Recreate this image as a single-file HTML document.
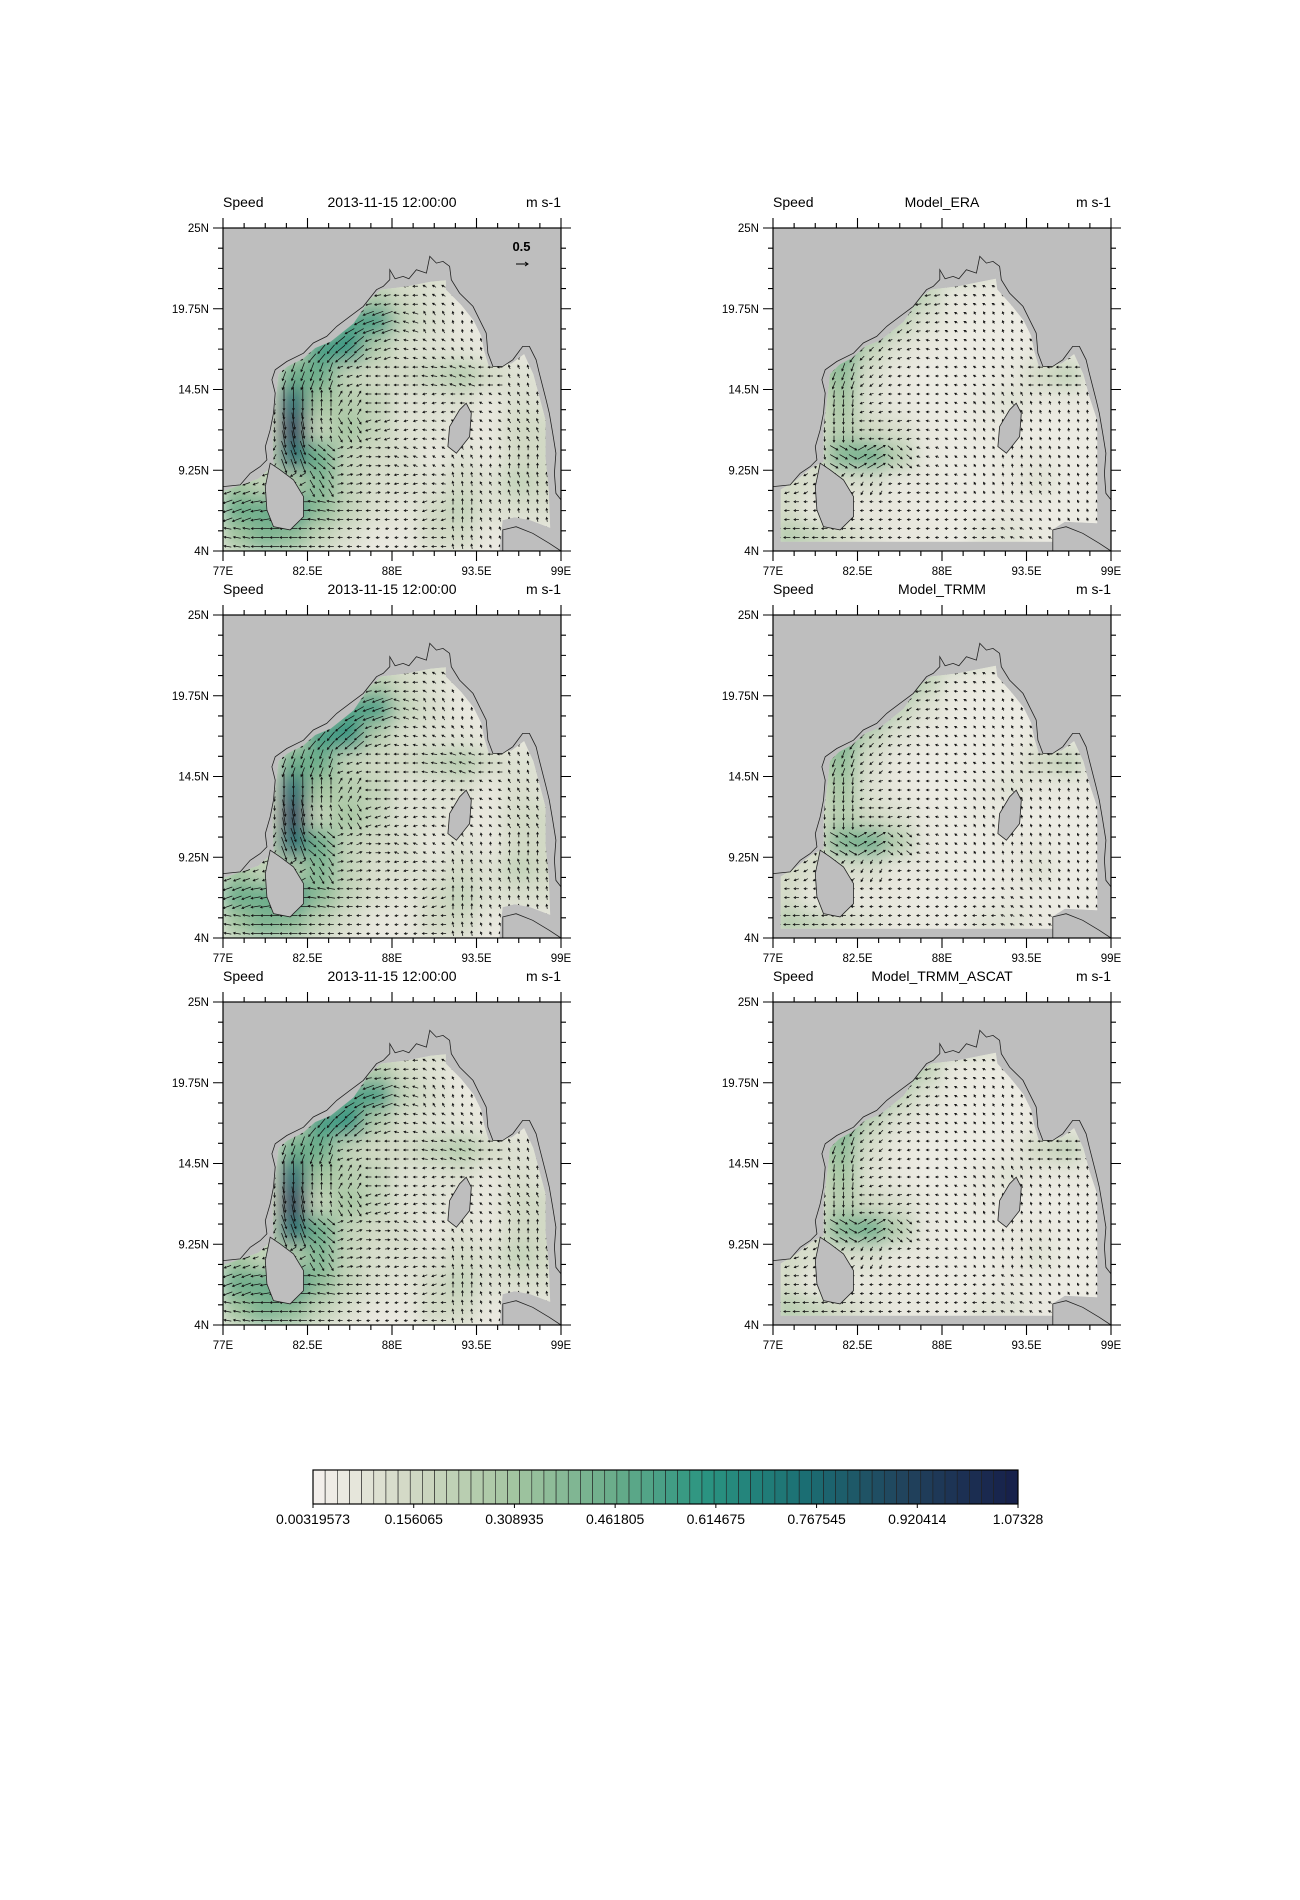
<!DOCTYPE html>
<html><head><meta charset="utf-8"><style>
html,body{margin:0;padding:0;background:#fff;}
svg{display:block;font-family:"Liberation Sans",sans-serif;}
</style></head><body>
<svg id="root" width="1300" height="1900" viewBox="0 0 1300 1900">
<defs>
<filter id="blur" x="-20%" y="-20%" width="140%" height="140%"><feGaussianBlur stdDeviation="9"/></filter>
</defs>
</svg>
<script>
// ---- data ----
const lonTicks=[77,82.5,88,93.5,99];
const lonLabels=["77E","82.5E","88E","93.5E","99E"];
const latTicks=[25,19.75,14.5,9.25,4];
const latLabels=["25N","19.75N","14.5N","9.25N","4N"];
const cbTickLabels=["0.00319573","0.156065","0.308935","0.461805","0.614675","0.767545","0.920414","1.07328"];
const cbMin=0.00319573, cbMax=1.07328, cbBoxes=58;
const panelTitlesMid=["2013-11-15 12:00:00","Model_ERA","2013-11-15 12:00:00","Model_TRMM","2013-11-15 12:00:00","Model_TRMM_ASCAT"];
// speed grids (m/s) 12 rows (25N->4N) x 12 cols (77E->99E)
const speedObs=[
[.05,.05,.05,.05,.05,.05,.05,.05,.05,.05,.05,.05],
[.08,.08,.08,.08,.08,.08,.1,.15,.15,.08,.08,.08],
[.08,.08,.08,.08,.15,.25,.15,.1,.06,.04,.04,.04],
[.08,.08,.08,.2,.5,.55,.2,.12,.06,.04,.04,.04],
[.08,.08,.2,.55,.6,.25,.12,.1,.08,.06,.06,.06],
[.08,.1,.45,.45,.2,.15,.15,.2,.25,.15,.1,.1],
[.08,.15,.75,.3,.25,.2,.1,.1,.12,.06,.12,.1],
[.08,.15,.9,.2,.3,.2,.1,.1,.06,.06,.15,.15],
[.15,.2,.75,.45,.2,.15,.12,.06,.1,.06,.15,.15],
[.3,.2,.25,.4,.2,.12,.12,.1,.15,.1,.2,.15],
[.45,.45,.6,.35,.2,.12,.08,.15,.2,.1,.12,.12],
[.3,.4,.35,.2,.12,.06,.06,.15,.15,.06,.06,.06]];
const angleObs=[
[180,180,180,180,180,180,180,180,180,180,180,180],
[180,180,180,180,180,180,180,170,160,150,120,90],
[200,200,200,200,200,190,180,150,120,100,90,90],
[220,220,220,220,210,200,160,120,100,90,90,90],
[230,230,230,230,220,200,170,150,130,110,100,90],
[240,240,250,250,200,180,180,170,160,180,110,100],
[260,260,270,90,60,180,180,190,180,150,120,100],
[270,270,280,100,300,200,190,170,150,140,120,110],
[230,240,290,320,20,0,160,150,120,100,90,90],
[200,200,210,300,10,10,190,170,100,120,110,100],
[200,190,180,170,180,180,180,200,90,110,100,100],
[170,180,180,180,180,190,190,180,100,110,120,100]];
const speedModel=[
[.05,.05,.05,.05,.05,.05,.05,.05,.05,.05,.05,.05],
[.06,.06,.06,.06,.08,.15,.25,.15,.06,.06,.06,.06],
[.06,.06,.06,.2,.4,.2,.06,.05,.05,.05,.05,.05],
[.06,.06,.2,.5,.2,.1,.05,.04,.04,.04,.04,.04],
[.06,.15,.45,.2,.1,.06,.04,.04,.04,.06,.06,.06],
[.06,.25,.35,.12,.06,.04,.04,.04,.06,.15,.2,.06],
[.06,.15,.3,.1,.06,.04,.04,.06,.1,.06,.06,.06],
[.06,.15,.25,.15,.12,.06,.04,.06,.04,.04,.04,.04],
[.06,.15,.4,.45,.25,.06,.04,.04,.06,.06,.04,.04],
[.15,.12,.12,.12,.06,.06,.04,.04,.06,.1,.04,.04],
[.15,.06,.06,.06,.06,.04,.04,.04,.06,.04,.04,.04],
[.25,.2,.15,.1,.06,.06,.04,.1,.1,.06,.04,.04]];
const angleModel=[
[180,180,180,180,180,180,180,180,180,180,180,180],
[200,200,200,200,200,190,180,170,160,150,120,90],
[220,220,220,220,210,190,170,150,130,110,100,90],
[230,230,230,225,215,190,150,120,110,100,90,90],
[240,240,235,225,200,170,150,130,120,140,160,170],
[250,250,250,220,190,180,170,150,130,180,180,170],
[260,260,265,200,180,180,150,130,120,110,100,100],
[270,270,270,180,190,170,150,120,100,110,100,100],
[270,280,330,30,320,160,140,120,100,110,120,100],
[200,210,220,240,190,180,160,120,100,120,110,100],
[180,180,180,180,180,180,180,170,150,130,120,110],
[180,180,180,180,180,180,180,180,160,150,140,130]];
// geography (lon,lat)
const coast=[[77,8.19],[78.12,8.3],[78.77,9.05],[79.42,9.49],[79.86,9.92],[79.75,10.79],[80.07,11.88],[80.29,12.96],[80.4,14.26],[80.18,15.13],[80.4,15.78],[81.15,16.32],[82.24,16.86],[82.88,17.52],[83.75,17.95],[84.4,18.6],[85.26,19.25],[86.13,19.9],[86.99,20.99],[87.43,21.2],[87.86,21.64],[87.86,22.29],[88.2,21.7],[88.72,21.85],[89.1,21.7],[89.59,22.29],[90.24,22.07],[90.46,23.16],[90.89,22.72],[91.32,22.83],[91.75,22.51],[91.86,21.64],[92.4,20.77],[93.27,19.9],[93.7,19.03],[94.13,18.17],[94.24,16.86],[94.57,16.0],[95.21,16.0],[95.86,16.43],[96.51,17.3],[96.94,17.3],[97.38,16.43],[97.59,15.56],[98.03,13.83],[98.24,12.96],[98.46,11.66],[98.67,10.36],[98.57,9.05],[98.67,7.75],[99,7.32]];
const sriLanka=[[80.07,9.71],[80.72,9.27],[81.59,8.62],[82.24,7.54],[82.24,6.23],[81.37,5.37],[80.29,5.58],[79.86,6.67],[79.75,8.19]];
const sumatra=[[95.21,4],[95.21,5.37],[96.08,5.58],[97.16,5.15],[98.24,4.5],[99,4]];
const andaman=[[92.4,13.18],[92.83,13.61],[93.16,12.96],[93.05,11.44],[92.19,10.36],[91.64,10.79],[91.75,12.09]];
const maskObs=[[77,4],[77,7.9],[78.5,8.4],[79.3,8.7],[80.3,9.6],[80.2,12],[80.5,14.5],[80.6,15.5],[81.2,16.0],[82.2,16.5],[83,17.2],[84,17.6],[85.5,18.8],[86.5,20.3],[87.3,21.0],[89,21.2],[90.5,21.5],[91.5,21.6],[91.5,21],[92.5,20],[93.3,19],[93.8,18],[94.0,17],[94.3,16.0],[95.8,16.2],[96.6,16.8],[97.2,15.5],[97.6,14.0],[98.0,12.5],[98.0,10],[98.2,8],[98.3,5.5],[97.0,6.0],[96.0,6.2],[95.2,6.0],[95.0,4]];
const maskModel=[[77.5,4.6],[77.5,8.0],[78.5,8.6],[79.5,9.4],[80.3,9.8],[80.3,12],[80.6,14.5],[80.7,15.5],[81.3,16.1],[82.2,16.6],[83,17.3],[84,17.7],[85.5,18.9],[86.5,20.4],[87.3,21.0],[89,21.2],[90.5,21.5],[91.5,21.7],[91.6,21],[92.5,20],[93.3,19],[93.8,18],[94.0,17],[94.3,16.0],[95.8,16.2],[96.6,16.8],[97.2,15.5],[97.6,14.0],[98.1,12.5],[98.1,10],[98.1,8],[98.1,5.8],[96.0,5.9],[95.2,5.4],[95.2,4.6]];

const NS="http://www.w3.org/2000/svg";
const root=document.getElementById('root');
function mk(tag,attrs,parent){const e=document.createElementNS(NS,tag);for(const k in attrs)e.setAttribute(k,attrs[k]);(parent||root).appendChild(e);return e;}
const cmapStops=[[0,[246,241,238]],[0.15,[210,217,197]],[0.3,[166,198,162]],[0.45,[109,174,139]],[0.6,[42,148,129]],[0.75,[27,110,115]],[0.9,[33,67,93]],[1.07,[23,32,74]]];
function cmap(v){if(v<=0)v=0;for(let i=1;i<cmapStops.length;i++){if(v<=cmapStops[i][0]||i==cmapStops.length-1){const a=cmapStops[i-1],b=cmapStops[i];let t=(v-a[0])/(b[0]-a[0]);t=Math.max(0,Math.min(1,t));const c=a[1].map((x,j)=>Math.round(x+(b[1][j]-x)*t));return `rgb(${c[0]},${c[1]},${c[2]})`;}}}

const W=338,H=323;
const panelX=[223,773], panelY=[228,615,1002];
let clipId=0;
function drawPanel(idx,x0,y0,speed,angle,mask){
  const g=mk('g',{});
  
  
  const px=lon=>x0+(lon-77)/22*W, py=lat=>y0+(25-lat)/21*H;
  const pts=a=>a.map(p=>px(p[0]).toFixed(1)+','+py(p[1]).toFixed(1)).join(' ');
  mk('rect',{x:x0,y:y0,width:W,height:H,fill:'#bebebe'},g);
  const cid='clip'+(clipId++);
  const cp=mk('clipPath',{id:cid},g);
  mk('polygon',{points:pts(mask)},cp);
  const field=mk('g',{'clip-path':`url(#${cid})`},g);
  
  
  mk('polygon',{points:pts(mask),fill:cmap(0.02)},field);
  const bl=mk('g',{filter:'url(#blur)'},field);
  const rows=speed.length, cols=speed[0].length;
  const cw=W/cols, ch=H/rows;
  for(let r=0;r<rows;r++)for(let c=0;c<cols;c++){
    const cell=mk('rect',{x:x0+c*cw-1,y:y0+r*ch-1,width:cw+2,height:ch+2,fill:cmap(speed[r][c])},bl);
    
    
  }
  let d='';
  for(let r=0;r<rows;r++)for(let c=0;c<cols;c++){
    const a=angle[r][c]*Math.PI/180, s=speed[r][c];
    const L=2.5+s*16;
    const dx=Math.cos(a), dy=-Math.sin(a);
    for(let i=0;i<3;i++)for(let j=0;j<3;j++){
      const cx=x0+c*cw+(j+0.5)*cw/3, cy=y0+r*ch+(i+0.5)*ch/3;
      const x1=cx-dx*L/2,y1=cy-dy*L/2,x2=cx+dx*L/2,y2=cy+dy*L/2;
      const hl=2.2;
      const hx1=x2-hl*(dx*0.87-dy*0.5), hy1=y2-hl*(dy*0.87+dx*0.5);
      const hx2=x2-hl*(dx*0.87+dy*0.5), hy2=y2-hl*(dy*0.87-dx*0.5);
      d+=`M${x1.toFixed(1)} ${y1.toFixed(1)}L${x2.toFixed(1)} ${y2.toFixed(1)}M${hx1.toFixed(1)} ${hy1.toFixed(1)}L${x2.toFixed(1)} ${y2.toFixed(1)}L${hx2.toFixed(1)} ${hy2.toFixed(1)}`;
    }
  }
  const ar=mk('path',{d:d,stroke:'#111',fill:'none','stroke-width':0.75},field);
  
  
  const land=[[77,25],...coast,[99,25]];
  const lp=mk('polygon',{points:pts(land),fill:'#bebebe'},g);
  
  
  mk('polyline',{points:pts(coast),fill:'none',stroke:'#222','stroke-width':0.8},g);
  for(const poly of [sriLanka,andaman]){
    const p=mk('polygon',{points:pts(poly),fill:'#bebebe',stroke:'#222','stroke-width':0.8},g);
    
    
  }
  mk('polygon',{points:pts(sumatra),fill:'#bebebe',stroke:'#222','stroke-width':0.8},g);
  mk('rect',{x:x0,y:y0,width:W,height:H,fill:'none',stroke:'#000','stroke-width':1.2},g);
  let t='';
  for(let lon=77;lon<=99.01;lon+=1.375){const maj=lonTicks.some(v=>Math.abs(v-lon)<0.01);const L=maj?10:5;const x=px(lon);t+=`M${x} ${y0}v${-L}M${x} ${y0+H}v${L}`;}
  for(let lat=4;lat<=25.01;lat+=1.3125){const maj=latTicks.some(v=>Math.abs(v-lat)<0.01);const L=maj?10:5;const y=py(lat);t+=`M${x0} ${y}h${-L}M${x0+W} ${y}h${L}`;}
  mk('path',{d:t,stroke:'#000','stroke-width':1.1,fill:'none'},g);
  lonTicks.forEach((v,i)=>{const e=mk('text',{x:px(v),y:y0+H+24,'text-anchor':'middle','font-size':11.5},g);e.textContent=lonLabels[i];
    });
  latTicks.forEach((v,i)=>{const e=mk('text',{x:x0-14,y:py(v)+4,'text-anchor':'end','font-size':11.5},g);e.textContent=latLabels[i];
    });
  const t1=mk('text',{x:x0,y:y0-21,'font-size':14},g);t1.textContent='Speed';
  
  const t2=mk('text',{x:x0+W/2,y:y0-21,'font-size':14,'text-anchor':'middle'},g);t2.textContent=panelTitlesMid[idx];
  
  const t3=mk('text',{x:x0+W,y:y0-21,'font-size':14,'text-anchor':'end'},g);t3.textContent='m s-1';
  
  if(idx===0){
    const rv=mk('text',{x:521.5,y:251,'font-size':13,'font-weight':'bold','text-anchor':'middle'},g);rv.textContent='0.5';
    
    const ra=mk('path',{d:'M516 264h12M525 262l3 2l-3 2',stroke:'#000','stroke-width':1,fill:'none'},g);
    
  }
}
for(let r=0;r<3;r++){
  drawPanel(r*2,panelX[0],panelY[r],speedObs,angleObs,maskObs);
  drawPanel(r*2+1,panelX[1],panelY[r],speedModel,angleModel,maskModel);
}
const cb=mk('g',{});


const cbx0=313,cbx1=1018,cby=1470,cbh=34;
const bw=(cbx1-cbx0)/cbBoxes;
for(let i=0;i<cbBoxes;i++){
  const v=cbMin+(i+0.5)*(cbMax-cbMin)/cbBoxes;
  const b=mk('rect',{x:cbx0+i*bw,y:cby,width:bw,height:cbh,fill:cmap(v),stroke:'#222','stroke-width':0.6},cb);
  
  
}
mk('rect',{x:cbx0,y:cby,width:cbx1-cbx0,height:cbh,fill:'none',stroke:'#000','stroke-width':1.2},cb);
cbTickLabels.forEach((lab,i)=>{
  const x=cbx0+i*(cbx1-cbx0)/(cbTickLabels.length-1);
  mk('path',{d:`M${x} ${cby+cbh}v4`,stroke:'#000','stroke-width':1},cb);
  const e=mk('text',{x:x,y:cby+cbh+20,'font-size':14,'text-anchor':'middle'},cb);e.textContent=lab;
  
});
</script>
</body></html>
